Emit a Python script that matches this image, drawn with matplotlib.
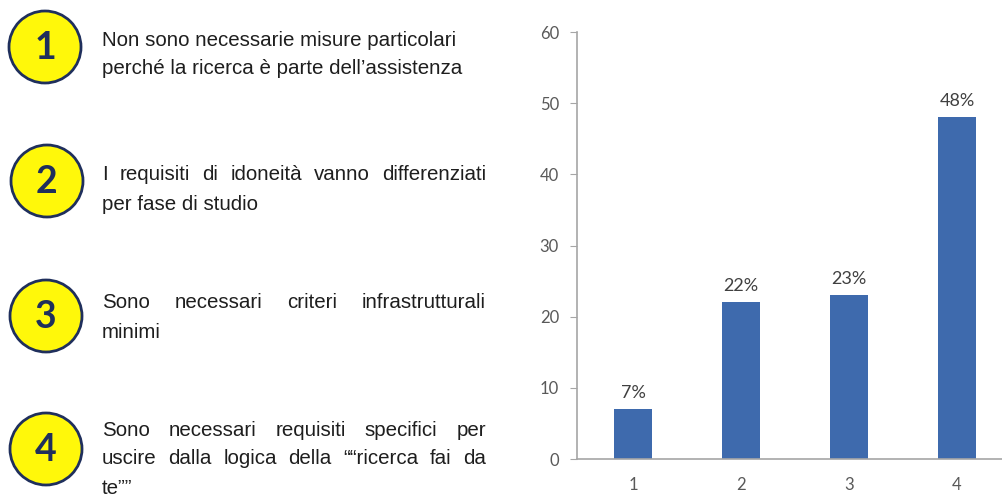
import matplotlib
matplotlib.use('Agg')
import matplotlib.pyplot as plt
from matplotlib.patches import Circle

# Chart data
categories = ['1', '2', '3', '4']
values = [7, 22, 23, 48]
value_labels = ['7%', '22%', '23%', '48%']
yticks = [0, 10, 20, 30, 40, 50, 60]

# Left-hand legend: number + text lines (True = justified line)
item_numbers = ['1', '2', '3', '4']
item_lines = [
    [('Non sono necessarie misure particolari', False),
     ('perché la ricerca è parte dell\u2019assistenza', False)],
    [('I requisiti di idoneità vanno differenziati', True),
     ('per fase di studio', False)],
    [('Sono necessari criteri infrastrutturali', True),
     ('minimi', False)],
    [('Sono necessari requisiti specifici per', True),
     ('uscire dalla logica della \u201c\u201cricerca fai da', True),
     ('te\u201d\u201d', False)],
]

# Layout (pixels)
W, H = 1002, 499
circle_xy = [(45, 47), (47, 181), (46, 316), (46, 449)]
circle_r = 36
text_left, text_right = 102, 486
line_y = [[40, 68], [175, 205], [303, 333], [430, 458, 488]]

BAR = '#3E6AAD'
NAVY = '#1F2F5C'
GRAY = '#A6A6A6'
body_font = ['Liberation Sans', 'DejaVu Sans']
body_size = 14.8

fig = plt.figure(figsize=(W / 100, H / 100), dpi=100)

# Overlay in pixel coordinates for circles and text
ov = fig.add_axes([0, 0, 1, 1])
ov.set_xlim(0, W)
ov.set_ylim(H, 0)
ov.axis('off')

renderer = fig.canvas.get_renderer()

for (cx, cy), num, lines, ys in zip(circle_xy, item_numbers, item_lines, line_y):
    ov.add_patch(Circle((cx, cy), circle_r, facecolor='#FFF80A',
                        edgecolor=NAVY, linewidth=2.0))
    ov.text(cx, cy + 1, num, ha='center', va='center', fontsize=27,
            fontweight='bold', family=['Lato', 'DejaVu Sans'], color=NAVY)
    for (line, justify), y in zip(lines, ys):
        if not justify:
            ov.text(text_left, y, line, ha='left', va='center',
                    fontsize=body_size, family=body_font, color='#1E1E1E')
            continue
        words = line.split()
        texts = []
        widths = []
        for w in words:
            t = ov.text(0, y, w, ha='left', va='center', fontsize=body_size,
                        family=body_font, color='#1E1E1E')
            texts.append(t)
            widths.append(t.get_window_extent(renderer).width)
        gap = (text_right - text_left - sum(widths)) / (len(words) - 1)
        x = text_left
        for t, wd in zip(texts, widths):
            t.set_x(x)
            x += wd + gap

# Bar chart
ax = fig.add_axes([577 / W, 40 / H, 425 / W, 427 / H])
x = list(range(1, len(values) + 1))
bars = ax.bar(x, values, width=0.35, color=BAR)
for b, lab in zip(bars, value_labels):
    ax.annotate(lab, (b.get_x() + b.get_width() / 2, b.get_height()),
                xytext=(0, 6), textcoords='offset points', ha='center',
                va='bottom', fontsize=13, family=['Lato', 'DejaVu Sans'],
                color='#404040')

ax.set_xlim(0.481, 4.416)
ax.set_ylim(0, 60)
ax.set_xticks(x)
ax.set_xticklabels(categories)
ax.set_yticks(yticks)
for s in ['top', 'right']:
    ax.spines[s].set_visible(False)
for s in ['left', 'bottom']:
    ax.spines[s].set_color(GRAY)
    ax.spines[s].set_linewidth(1.2)
ax.tick_params(axis='x', length=0, pad=13, labelsize=12, labelcolor='#595959')
ax.tick_params(axis='y', length=5, color=GRAY, pad=8, labelsize=12,
               labelcolor='#595959')
for lab in ax.get_xticklabels() + ax.get_yticklabels():
    lab.set_family(['Lato', 'DejaVu Sans'])

fig.savefig('out.png', dpi=100)
